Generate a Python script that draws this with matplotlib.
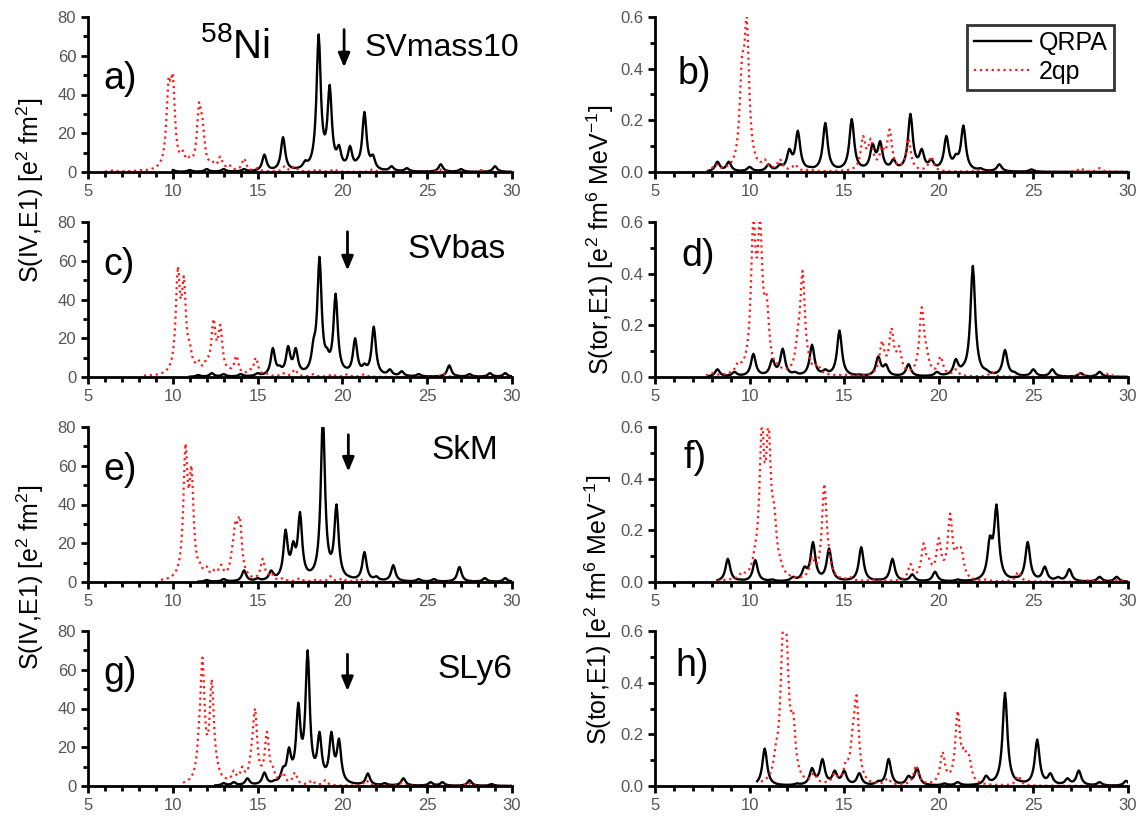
import numpy as np
import matplotlib
matplotlib.use('Agg')
import matplotlib.pyplot as plt
from matplotlib.ticker import MultipleLocator

plt.rcParams['font.family'] = ['Liberation Sans', 'DejaVu Sans']
plt.rcParams['mathtext.fontset'] = 'custom'
plt.rcParams['mathtext.rm'] = 'Liberation Sans'
plt.rcParams['mathtext.it'] = 'Liberation Sans:italic'
plt.rcParams['axes.unicode_minus'] = True

# peak energies [MeV] and peak heights of the folded strength functions
# panel a) SVmass10, isovector E1
a_qrpa_e = [10.0, 11.0, 12.0, 13.0, 14.2, 15.4, 16.5, 17.8, 18.6, 19.25, 19.8, 20.45, 20.9, 21.3, 21.8, 22.9, 23.8, 25.8, 27.0, 29.0]
a_qrpa_s = [1, 1, 1.5, 1.5, 1.5, 9, 18, 6, 71, 45, 14, 13.5, 7, 31, 9, 3, 2, 4, 1.5, 3]
a_2qp_e = [6.5, 8.0, 9.75, 10.0, 10.6, 11.0, 11.55, 11.75, 12.3, 12.8, 13.3, 14.2, 15.0, 16.6, 17.2, 18.5, 19.5, 21.8, 25.7, 28.2]
a_2qp_s = [1, 1, 49, 51, 11, 8, 36, 28, 6, 8, 4, 7, 2, 3, 3, 1.5, 1.5, 1.5, 1.5, 1]
# panel b) SVmass10, toroidal E1
b_qrpa_e = [8.3, 8.9, 10.0, 11.0, 11.6, 12.1, 12.55, 13.2, 14.0, 15.4, 16.5, 16.9, 17.6, 18.5, 19.1, 19.6, 20.4, 20.9, 21.3, 22.2, 23.2, 24.9]
b_qrpa_s = [0.04, 0.04, 0.02, 0.03, 0.03, 0.09, 0.16, 0.02, 0.19, 0.205, 0.11, 0.12, 0.05, 0.225, 0.09, 0.05, 0.14, 0.07, 0.18, 0.015, 0.03, 0.01]
b_2qp_e = [8.2, 9.0, 9.6, 9.85, 10.2, 10.8, 11.6, 12.4, 13.2, 16.0, 16.4, 17.0, 17.4, 18.4, 19.6, 22.0, 27.5, 28.5]
b_2qp_s = [0.03, 0.02, 0.45, 0.6, 0.1, 0.05, 0.05, 0.03, 0.01, 0.14, 0.13, 0.1, 0.165, 0.13, 0.06, 0.01, 0.015, 0.015]
# panel c) SVbas, isovector E1
c_qrpa_e = [11.5, 12.3, 13.0, 14.0, 15.0, 15.9, 16.3, 16.8, 17.25, 17.8, 18.3, 18.65, 19.1, 19.6, 20.2, 20.75, 21.3, 21.85, 22.8, 23.5, 24.5, 26.3, 27.5, 28.7, 29.6]
c_qrpa_s = [1, 2, 1.5, 1.5, 2, 15, 6, 16, 15, 4, 20, 62, 15, 43, 5, 20, 7, 26, 4, 3, 1.5, 6, 1.5, 2, 2]
c_2qp_e = [8.5, 9.2, 9.7, 10.3, 10.65, 11.0, 11.5, 12.0, 12.4, 12.8, 13.3, 13.75, 14.5, 14.9, 15.5, 16.5, 17.2, 18.3, 19.4, 20.3, 21.3, 26.0]
c_2qp_s = [1, 1, 4, 57, 52, 18, 9, 10, 30, 27, 5, 11, 4, 10, 2, 2, 4, 1.5, 1.5, 1.5, 1.5, 1.5]
# panel d) SVbas, toroidal E1
d_qrpa_e = [8.3, 9.2, 10.2, 11.2, 11.75, 12.4, 13.3, 14.0, 14.75, 15.8, 16.8, 17.2, 18.4, 19.9, 20.9, 21.3, 21.8, 22.5, 23.5, 24.0, 25.0, 26.0, 27.5, 28.5]
d_qrpa_s = [0.03, 0.02, 0.09, 0.07, 0.11, 0.02, 0.125, 0.03, 0.18, 0.01, 0.08, 0.05, 0.05, 0.02, 0.07, 0.05, 0.43, 0.03, 0.105, 0.02, 0.03, 0.03, 0.015, 0.02]
d_2qp_e = [8.0, 9.4, 10.2, 10.55, 10.9, 11.5, 12.2, 12.55, 12.8, 13.1, 13.6, 15.0, 17.0, 17.5, 17.9, 19.1, 19.35, 20.1, 20.9, 22.8, 27.5, 29.0]
d_2qp_s = [0.015, 0.06, 0.62, 0.62, 0.32, 0.05, 0.03, 0.19, 0.41, 0.1, 0.05, 0.01, 0.14, 0.19, 0.12, 0.27, 0.12, 0.08, 0.03, 0.02, 0.015, 0.015]
# panel e) SkM, isovector E1
e_qrpa_e = [12.0, 13.0, 14.2, 15.0, 15.8, 16.65, 17.1, 17.5, 18.3, 18.85, 19.65, 20.4, 21.3, 22.0, 23.0, 24.5, 25.4, 26.9, 28.4, 29.6]
e_qrpa_s = [1, 1.5, 6, 2, 6, 27, 21, 36, 4, 85, 40, 3, 15.5, 3, 8.7, 1.5, 1.5, 7.8, 2, 2]
e_2qp_e = [9.5, 10.3, 10.75, 11.1, 11.6, 12.0, 12.5, 12.85, 13.5, 13.7, 13.95, 14.4, 15.3, 15.8, 16.5, 17.5, 18.5, 19.3, 20.0, 21.0]
e_2qp_s = [1, 4, 71, 60, 10, 8, 7, 9, 18, 32, 34, 5, 12, 5, 2, 2, 1.5, 3, 2, 2]
# panel f) SkM, toroidal E1
f_qrpa_e = [8.85, 9.5, 10.3, 11.2, 12.3, 12.9, 13.35, 14.2, 15.0, 15.9, 16.8, 17.55, 18.6, 19.8, 21.0, 22.7, 23.05, 24.0, 24.7, 25.6, 26.3, 26.9, 28.5, 29.4]
f_qrpa_s = [0.09, 0.01, 0.085, 0.01, 0.02, 0.06, 0.155, 0.13, 0.01, 0.135, 0.01, 0.09, 0.03, 0.04, 0.01, 0.18, 0.3, 0.02, 0.155, 0.06, 0.02, 0.05, 0.02, 0.02]
f_2qp_e = [8.8, 9.6, 10.3, 10.65, 11.0, 11.3, 11.6, 12.3, 13.3, 13.95, 14.2, 15.3, 16.5, 18.5, 19.2, 19.5, 20.0, 20.6, 21.0, 21.2, 22.5, 24.2, 28.0, 29.5]
f_2qp_s = [0.01, 0.04, 0.15, 0.62, 0.62, 0.3, 0.1, 0.02, 0.1, 0.38, 0.13, 0.02, 0.01, 0.07, 0.15, 0.09, 0.17, 0.265, 0.14, 0.13, 0.01, 0.04, 0.01, 0.01]
# panel g) SLy6, isovector E1
g_qrpa_e = [13.0, 13.6, 14.4, 15.4, 16.0, 16.5, 16.85, 17.4, 17.95, 18.65, 19.35, 19.8, 20.6, 21.5, 22.5, 23.6, 25.2, 25.9, 27.5, 28.8]
g_qrpa_s = [1.5, 2, 4, 7, 3, 10, 20, 43, 70, 28, 28, 24.5, 1.5, 6.5, 1.5, 4, 2, 2, 3, 1]
g_2qp_e = [10.8, 11.2, 11.55, 11.75, 12.3, 12.6, 13.0, 13.6, 14.1, 14.65, 14.85, 15.55, 15.9, 16.5, 17.2, 18.2, 19.0, 21.4, 23.5, 27.4]
g_2qp_s = [2, 3, 33, 66, 55, 15, 5, 8, 10, 22, 40, 28, 10, 7, 7, 3, 3, 3, 1.5, 2]
# panel h) SLy6, toroidal E1
h_qrpa_e = [10.8, 12.5, 13.3, 13.85, 14.5, 15.0, 15.8, 16.8, 17.35, 18.4, 18.85, 20.3, 21.0, 22.5, 23.1, 23.5, 24.3, 25.2, 25.9, 26.8, 27.4, 28.5, 29.9]
h_qrpa_s = [0.145, 0.01, 0.07, 0.105, 0.06, 0.06, 0.05, 0.02, 0.105, 0.04, 0.07, 0.01, 0.015, 0.04, 0.04, 0.36, 0.02, 0.18, 0.05, 0.03, 0.06, 0.015, 0.02]
h_2qp_e = [11.1, 11.4, 11.75, 11.95, 12.3, 12.6, 13.4, 14.5, 15.1, 15.45, 15.65, 16.0, 17.3, 18.8, 20.2, 20.5, 21.0, 21.35, 21.6, 24.2]
h_2qp_s = [0.05, 0.17, 0.6, 0.6, 0.29, 0.07, 0.05, 0.05, 0.1, 0.23, 0.35, 0.05, 0.03, 0.08, 0.13, 0.04, 0.29, 0.15, 0.12, 0.04]

# lowest energy of each computed spectrum (qrpa, 2qp)
starts = {'a': (10.0, 6.0), 'b': (7.8, 8.0), 'c': (11.0, 8.3), 'd': (7.8, 7.7),
          'e': (11.5, 9.3), 'f': (8.3, 8.3), 'g': (12.5, 10.6), 'h': (10.4, 10.6)}

models = ['SVmass10', 'SVbas', 'SkM', 'SLy6']
arrow_e = [20.1, 20.3, 20.35, 20.3]

GAMMA = 0.3  # Lorentzian folding width [MeV]


def fold(e_peak, s_peak, e_min):
    e_peak = np.asarray(e_peak, float)
    s_peak = np.asarray(s_peak, float)
    hw = GAMMA / 2
    kern = lambda x: hw**2 / ((x[:, None] - e_peak[None, :])**2 + hw**2)
    amp = np.clip(np.linalg.solve(kern(e_peak), s_peak), 0, None)
    e = np.arange(e_min, 30.001, 0.05)
    return e, kern(e) @ amp


data = {
    'a': (a_qrpa_e, a_qrpa_s, a_2qp_e, a_2qp_s), 'b': (b_qrpa_e, b_qrpa_s, b_2qp_e, b_2qp_s),
    'c': (c_qrpa_e, c_qrpa_s, c_2qp_e, c_2qp_s), 'd': (d_qrpa_e, d_qrpa_s, d_2qp_e, d_2qp_s),
    'e': (e_qrpa_e, e_qrpa_s, e_2qp_e, e_2qp_s), 'f': (f_qrpa_e, f_qrpa_s, f_2qp_e, f_2qp_s),
    'g': (g_qrpa_e, g_qrpa_s, g_2qp_e, g_2qp_s), 'h': (h_qrpa_e, h_qrpa_s, h_2qp_e, h_2qp_s),
}

fig = plt.figure(figsize=(11.38, 8.16), dpi=100)
W, H = 1138.0, 816.0
row_bottom = [172, 377, 582, 786]
panels = [['a', 'b'], ['c', 'd'], ['e', 'f'], ['g', 'h']]

for r in range(4):
    for col in range(2):
        key = panels[r][col]
        x0, x1 = (88, 512) if col == 0 else (655, 1128)
        ax = fig.add_axes([x0 / W, 1 - row_bottom[r] / H, (x1 - x0) / W, 155 / H])
        qe, qs, pe, ps = data[key]
        eq, sq = fold(qe, qs, starts[key][0])
        ep, sp = fold(pe, ps, starts[key][1])
        ax.plot(eq, sq, color='black', lw=1.7, label='QRPA')
        ax.plot(ep, sp, color='#ff1a1a', lw=1.6, ls=':', label='2qp')

        ax.set_xlim(5, 30)
        ax.xaxis.set_major_locator(MultipleLocator(5))
        ax.xaxis.set_minor_locator(MultipleLocator(1))
        if col == 0:
            ax.set_ylim(0, 80)
            ax.yaxis.set_major_locator(MultipleLocator(20))
            ax.yaxis.set_minor_locator(MultipleLocator(10))
        else:
            ax.set_ylim(0, 0.6)
            ax.yaxis.set_major_locator(MultipleLocator(0.2))
            ax.yaxis.set_minor_locator(MultipleLocator(0.1))
            ax.yaxis.set_major_formatter(plt.FormatStrFormatter('%.1f'))

        for s in ['top', 'right']:
            ax.spines[s].set_visible(False)
        for s in ['left', 'bottom']:
            ax.spines[s].set_linewidth(2)
        ax.tick_params(which='major', direction='out', length=5, width=2,
                       labelsize=12, labelcolor='#555555')
        ax.tick_params(which='minor', direction='out', length=3.5, width=2)
        ax.patch.set_visible(False)

        ymax = ax.get_ylim()[1]
        if col == 0:
            ax.text(5.9, 0.72 * ymax if r != 0 else 0.6 * ymax, key + ')',
                    fontsize=27, va='center', ha='left')
            ae = arrow_e[r]
            top, tip = [(73.5, 54), (75, 55), (76, 57), (68, 49)][r]
            ax.annotate('', xy=(ae, tip), xytext=(ae, top),
                        arrowprops=dict(arrowstyle='-|>,head_length=0.6,head_width=0.25',
                                        lw=2, color='black', mutation_scale=14,
                                        shrinkA=0, shrinkB=0))
            if r == 0:
                ax.text(21.3, 64, models[r], fontsize=23, va='center', ha='left')
                ax.text(11.6, 59, r'$^{58}$Ni', fontsize=29, va='baseline', ha='left')
            else:
                mx, my = [(0, 0), (29.6, 66), (29.2, 68), (30.0, 60)][r]
                ax.text(mx, my, models[r], fontsize=24, va='center', ha='right')
        else:
            ly = [0.38, 0.47, 0.48, 0.465][r]
            lx = [6.2, 6.4, 6.5, 6.1][r]
            ax.text(lx, ly, key + ')', fontsize=27, va='center', ha='left')
            if r == 0:
                leg = ax.legend(loc='upper right', bbox_to_anchor=(0.97, 0.95),
                                fontsize=18, frameon=True, fancybox=False,
                                handlelength=2.3, handletextpad=0.3,
                                borderpad=0.25, labelspacing=0.2, borderaxespad=0)
                leg.get_frame().set_edgecolor('black')
                leg.get_frame().set_linewidth(2)

# shared y-axis titles, each spanning two rows
ylab_iv = 'S(IV,E1) [e$^2$ fm$^2$]'
ylab_tor = 'S(tor,E1) [e$^2$ fm$^6$ MeV$^{-1}$]'
fig.text(30 / W, 1 - 190 / H, ylab_iv, rotation=90, fontsize=18, ha='center', va='center')
fig.text(30 / W, 1 - 577 / H, ylab_iv, rotation=90, fontsize=18, ha='center', va='center')
fig.text(600 / W, 1 - 240 / H, ylab_tor, rotation=90, fontsize=18, ha='center', va='center')
fig.text(598 / W, 1 - 610 / H, ylab_tor, rotation=90, fontsize=18, ha='center', va='center')

fig.savefig('out.png', dpi=100)
